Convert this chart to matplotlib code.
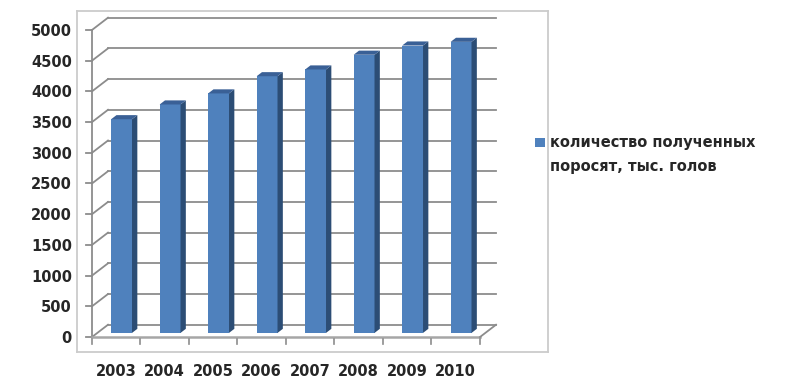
import numpy as np
import matplotlib
matplotlib.use("Agg")
from matplotlib import pyplot as plt
from matplotlib.patches import Polygon, Rectangle

years = ["2003", "2004", "2005", "2006", "2007", "2008", "2009", "2010"]
piglets = [3480, 3720, 3900, 4180, 4290, 4530, 4680, 4740]
yticks = list(range(0, 5001, 500))
legend_lines = ["количество полученных", "поросят, тыс. голов"]

# oblique "3d" look like excel: depth shift in data units
DX = 0.33      # categories
DY = 200.0     # value units
D0, D1 = 1/3, 2/3   # bar depth (front, back) as fraction of wall depth
BW = 0.43

FRONT = "#4F81BD"
SIDE = "#2C4D75"
TOP = "#3A6096"
GRID = "#8c8c8c"
TXT = "#262626"

plt.rcParams['font.family'] = ['DejaVu Sans']

fig = plt.figure(figsize=(7.85, 3.81), dpi=100)
W, H = 785, 381
ax = fig.add_axes([77/W, (H-352)/H, (548-77)/W, (352-11)/H])
ax.set_xlim(-0.309, 9.402)
ax.set_ylim(-244, 5309)

n = len(years)
x = np.arange(n) + 0.5

# back wall gridlines + left wall diagonals
for v in yticks:
    ax.plot([DX, n + DX], [v + DY, v + DY], color=GRID, lw=1.3, zorder=1)
    ax.plot([0, DX], [v, v + DY], color=GRID, lw=1.3, zorder=1)
    ax.plot([-0.12, 0], [v, v], color=GRID, lw=1.3, zorder=1)

# front axis line
ax.plot([0, 0], [0, yticks[-1]], color=GRID, lw=1.3, zorder=1)

# floor
ax.plot([0, n], [0, 0], color="#a6a6a6", lw=1.8, zorder=1)
ax.plot([n, n + DX], [0, DY], color=GRID, lw=1.3, zorder=1)
for i in range(n + 1):
    ax.plot([i, i], [-40, -110], color=GRID, lw=1.2, zorder=1)

# bars
xf = x + D0 * DX
ax.bar(xf, piglets, width=BW, bottom=D0 * DY, color=FRONT, zorder=3)
dd = (D1 - D0)
for xc, v in zip(xf, piglets):
    r = xc + BW / 2
    l = xc - BW / 2
    b = D0 * DY
    t = D0 * DY + v
    side = Polygon([(r, b), (r + dd * DX, b + dd * DY), (r + dd * DX, t + dd * DY), (r, t)],
                   closed=True, facecolor=SIDE, edgecolor="none", zorder=3)
    top = Polygon([(l, t), (r, t), (r + dd * DX, t + dd * DY), (l + dd * DX, t + dd * DY)],
                  closed=True, facecolor=TOP, edgecolor="none", zorder=3)
    ax.add_patch(side)
    ax.add_patch(top)

ax.set_yticks(yticks)
ax.set_yticklabels([str(v) for v in yticks])
ax.set_xticks(x)
ax.set_xticklabels(years)
ax.tick_params(axis='y', length=0, pad=3.6, labelsize=10.5, labelcolor=TXT)
ax.tick_params(axis='x', length=0, pad=9, labelsize=10.5, labelcolor=TXT)
for lab in ax.get_xticklabels() + ax.get_yticklabels():
    lab.set_fontweight("bold")

for s in ax.spines.values():
    s.set_color("#cccccc")
    s.set_linewidth(1.3)

# legend
fig.patches.append(Rectangle((535/W, 1 - 147/H), 10/W, 9/H, transform=fig.transFigure,
                             facecolor=FRONT, edgecolor="none"))
fig.text(550/W, 1 - 142/H, legend_lines[0], fontsize=10.5, fontweight="bold",
         color=TXT, va="center", ha="left")
fig.text(550/W, 1 - 167/H, legend_lines[1], fontsize=10.5, fontweight="bold",
         color=TXT, va="center", ha="left")

fig.savefig("out.png", dpi=100)
